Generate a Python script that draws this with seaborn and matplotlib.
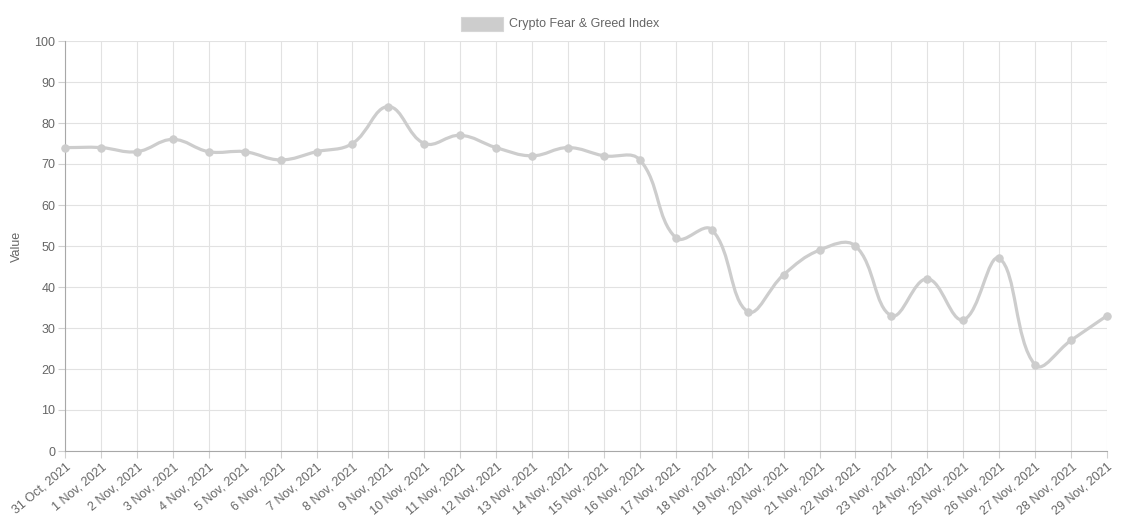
import numpy as np
import pandas as pd
import matplotlib
matplotlib.use("Agg")
import matplotlib.pyplot as plt
from matplotlib.path import Path
from matplotlib.patches import PathPatch, Rectangle
import seaborn as sns

dates = ["31 Oct, 2021", "1 Nov, 2021", "2 Nov, 2021", "3 Nov, 2021", "4 Nov, 2021",
         "5 Nov, 2021", "6 Nov, 2021", "7 Nov, 2021", "8 Nov, 2021", "9 Nov, 2021",
         "10 Nov, 2021", "11 Nov, 2021", "12 Nov, 2021", "13 Nov, 2021", "14 Nov, 2021",
         "15 Nov, 2021", "16 Nov, 2021", "17 Nov, 2021", "18 Nov, 2021", "19 Nov, 2021",
         "20 Nov, 2021", "21 Nov, 2021", "22 Nov, 2021", "23 Nov, 2021", "24 Nov, 2021",
         "25 Nov, 2021", "26 Nov, 2021", "27 Nov, 2021", "28 Nov, 2021", "29 Nov, 2021"]
values = [74, 74, 73, 76, 73, 73, 71, 73, 75, 84,
          75, 77, 74, 72, 74, 72, 71, 52, 54, 34,
          43, 49, 50, 33, 42, 32, 47, 21, 27, 33]
series_name = "Crypto Fear & Greed Index"

sns.set_theme(style="white")
plt.rcParams['font.family'] = ['Liberation Sans', 'DejaVu Sans']

W, H = 1124, 521
fig = plt.figure(figsize=(W / 100, H / 100), dpi=100)
ax = fig.add_axes([65 / W, 1 - 451 / H, (1107 - 65) / W, (451 - 41) / H])

df = pd.DataFrame({"day": np.arange(len(dates)), "value": values})
ax.set_xlim(0, len(dates) - 1)
ax.set_ylim(0, 100)

# smooth line like chart.js (tension 0.4), control points computed in pixel space
pts = ax.transData.transform(df[["day", "value"]].to_numpy(float))
tension = 0.4
n = len(pts)
verts = [pts[0]]
codes = [Path.MOVETO]
cps = []
for i in range(n):
    prev = pts[max(i - 1, 0)]
    cur = pts[i]
    nxt = pts[min(i + 1, n - 1)]
    d01 = np.hypot(*(cur - prev))
    d12 = np.hypot(*(nxt - cur))
    tot = d01 + d12
    s01 = d01 / tot if tot else 0
    s12 = d12 / tot if tot else 0
    cp_prev = cur - tension * s01 * (nxt - prev)
    cp_next = cur + tension * s12 * (nxt - prev)
    cps.append((cp_prev, cp_next))
for i in range(1, n):
    verts += [cps[i - 1][1], cps[i][0], pts[i]]
    codes += [Path.CURVE4] * 3
verts = ax.transData.inverted().transform(np.array(verts))
ax.add_patch(PathPatch(Path(verts, codes), facecolor="none", edgecolor="#cdcdcd",
                       lw=2.3, zorder=3, clip_on=False))

sns.scatterplot(data=df, x="day", y="value", color="#cdcdcd", s=28, edgecolor="#cdcdcd",
                linewidth=0.8, zorder=4, clip_on=False, ax=ax, legend=False)

ax.set_xticks(df["day"])
ax.set_xticklabels(dates, rotation=40, ha="right", rotation_mode="anchor")
ax.set_yticks(range(0, 101, 10))
ax.grid(True, color="#e2e2e2", lw=0.8)
ax.set_axisbelow(True)
for side in ["top", "right"]:
    ax.spines[side].set_visible(False)
for side in ["left", "bottom"]:
    ax.spines[side].set_color("#a8a8a8")
    ax.spines[side].set_linewidth(0.8)
ax.tick_params(axis="both", length=5, width=0.8, color="#d0d0d0", labelcolor="#666666",
               labelsize=9, pad=2, bottom=True, left=True)
ax.set_xlabel("")
ax.set_ylabel("Value", color="#666666", fontsize=9)
ax.yaxis.set_label_coords(-42 / (1107 - 65), 0.5)

# legend like chart.js, box + text centered at top
fig.patches.append(Rectangle((461 / W, 1 - 31 / H), 42 / W, 14 / H, transform=fig.transFigure,
                             facecolor="#cdcdcd", edgecolor="#d6d6d6", lw=0.8))
fig.text(509 / W, 1 - 24.5 / H, series_name, color="#666666", fontsize=9, va="center", ha="left")

fig.savefig("out.png", dpi=100)
